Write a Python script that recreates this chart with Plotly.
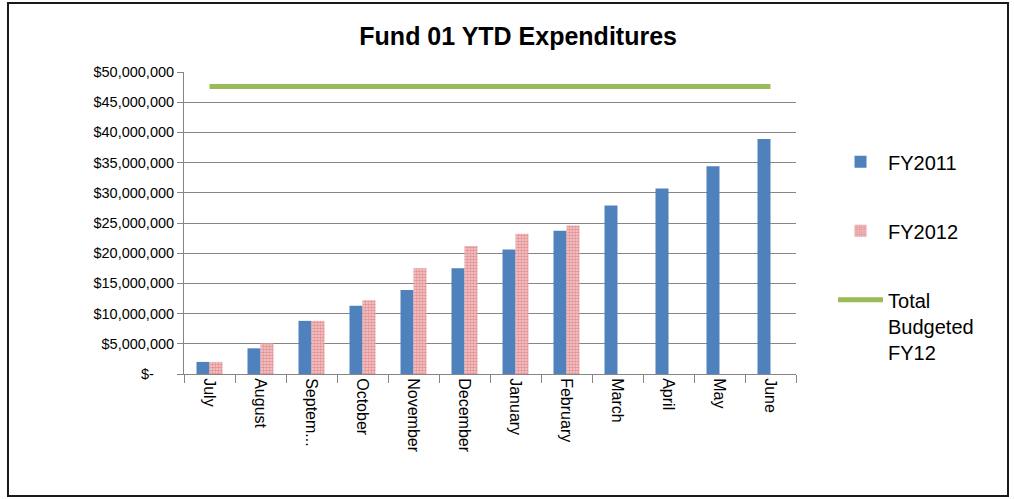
import plotly.graph_objects as go

months = ["July", "August", "Septem...", "October", "November", "December",
          "January", "February", "March", "April", "May", "June"]
fy2011 = [2.0e6, 4.25e6, 8.8e6, 11.3e6, 13.9e6, 17.5e6, 20.6e6, 23.7e6,
          27.9e6, 30.7e6, 34.4e6, 38.9e6]
fy2012 = [2.0e6, 5.1e6, 8.8e6, 12.2e6, 17.5e6, 21.2e6, 23.2e6, 24.6e6,
          None, None, None, None]
budget_fy12 = [47.6e6] * 12

NB = "\u00a0"
tick_vals = [0, 5e6, 10e6, 15e6, 20e6, 25e6, 30e6, 35e6, 40e6, 45e6, 50e6]
tick_text = ["$-" + NB * 5, "$5,000,000", "$10,000,000", "$15,000,000", "$20,000,000",
             "$25,000,000", "$30,000,000", "$35,000,000", "$40,000,000",
             "$45,000,000", "$50,000,000"]

FONT = "Liberation Sans, Arial, sans-serif"

fig = go.Figure()
fig.add_trace(go.Bar(
    x=months, y=fy2011, name="FY2011", legendgroup="a",
    marker=dict(color="#4F81BD", line=dict(width=0)),
))
fig.add_trace(go.Bar(
    x=months, y=fy2012, name="FY2012", legendgroup="b",
    marker=dict(color="#F2C9CA", line=dict(width=0),
                pattern=dict(shape=".", fgcolor="#D2555A", bgcolor="#F4CDCE",
                             size=3, solidity=0.6)),
))
fig.add_trace(go.Scatter(
    x=months, y=budget_fy12, name="Total<br>Budgeted<br>FY12", legendgroup="c",
    mode="lines", line=dict(color="#9BBB59", width=5),
))

fig.update_layout(
    width=1014, height=499,
    margin=dict(l=184, r=218, t=72, b=125),
    paper_bgcolor="white", plot_bgcolor="white",
    font=dict(family=FONT, color="#000000", size=15),
    title=dict(text="<b>Fund 01 YTD Expenditures</b>", x=0.511, xanchor="center",
               y=1 - 36 / 499, yanchor="middle", yref="container",
               font=dict(family=FONT, size=25, color="#000000")),
    barmode="group", bargap=0.49, bargroupgap=0,
    showlegend=True,
    legend=dict(x=1.0605, xanchor="left", y=0.767, yanchor="top",
                font=dict(family=FONT, size=20), tracegroupgap=40,
                itemwidth=45, valign="top", bgcolor="rgba(0,0,0,0)"),
    shapes=[dict(type="rect", xref="paper", yref="paper",
                 x0=-0.2876, x1=1.3464, y0=-0.404, y1=1.2285,
                 line=dict(color="#1a1a1a", width=2), layer="below")],
)
fig.update_xaxes(
    type="category", tickangle=90, tickson="boundaries", ticks="outside",
    ticklen=8, tickcolor="#868686", showline=True, linecolor="#868686",
    linewidth=1, showgrid=False, tickfont=dict(family=FONT, size=16),
)
fig.update_yaxes(
    range=[0, 50e6], tickvals=tick_vals, ticktext=tick_text,
    ticks="outside", ticklen=6, tickcolor="#868686",
    showline=True, linecolor="#868686", linewidth=1,
    showgrid=True, gridcolor="#868686", gridwidth=1,
    tickfont=dict(family=FONT, size=14.5), zeroline=False,
)

fig.write_html("out.html", config={"displayModeBar": False},
               post_script="document.body.style.margin='0px';")
